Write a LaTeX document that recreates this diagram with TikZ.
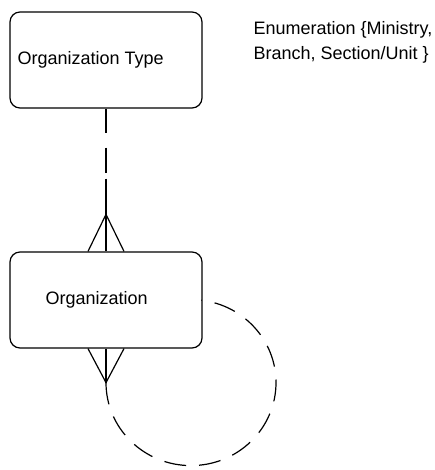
\documentclass[tikz,border=0pt]{standalone}
\usepackage{fontspec}
\setmainfont{Liberation Sans}
\usetikzlibrary{calc}
\begin{document}
\begin{tikzpicture}[x=1pt,y=1pt,
  line width=1.2pt,
  entity/.style={draw, rounded corners=10pt, minimum width=192pt, minimum height=96pt, inner sep=0pt},
  lbl/.style={inner sep=0pt, font=\fontsize{18}{25}\selectfont},
  reldash/.style={dash pattern=on 22pt off 13pt}
]
\useasboundingbox (0,0) rectangle (435,470);

% entities
\node[entity] (typebox) at (106,410) {};
\node[entity] (orgbox) at (106,170) {};
\node[lbl, anchor=west] (typelbl) at (17,410) {Organization Type};
\node[lbl, anchor=west] (orglbl) at (45,170) {Organization};
\node[lbl, anchor=north west, align=left] (enumlbl) at (253,449)
  {Enumeration \{Ministry,\\Branch, Section/Unit \}};

% crow's foot on the type relationship
\coordinate (topapex) at ($(orgbox.north)+(0,37)$);
\coordinate (topL) at ($(orgbox.north)+(-18,0)$);
\coordinate (topR) at ($(orgbox.north)+(18,0)$);
\draw[dash pattern=on 24pt off 15pt on 25pt off 6pt on 120pt off 0pt]
  (typebox.south) -- (orgbox.north);
\draw (topL) -- (topapex) -- (topR);

% crow's foot and recursive loop
\coordinate (botapex) at ($(orgbox.south)+(0,-34)$);
\coordinate (botL) at ($(orgbox.south)+(-18,0)$);
\coordinate (botR) at ($(orgbox.south)+(18,0)$);
\draw (orgbox.south) -- (botapex);
\draw (botL) -- (botapex) -- (botR);
\draw[reldash] (botapex) arc[start angle=180, end angle=443, x radius=85, y radius=83];
\end{tikzpicture}
\end{document}
